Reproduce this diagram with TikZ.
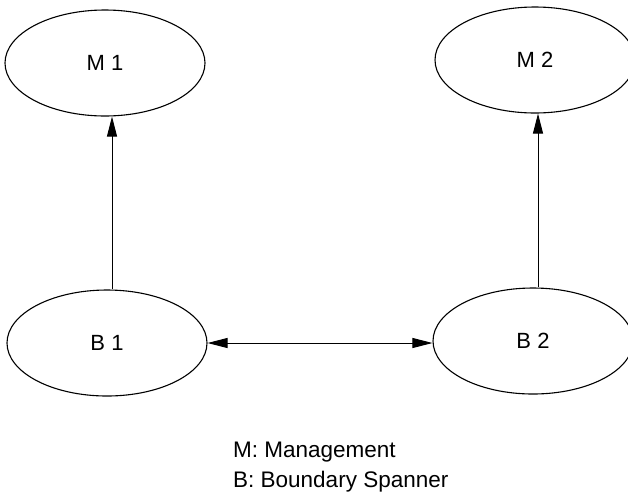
\documentclass[tikz,border=0pt]{standalone}
\usepackage{fontspec}
\setmainfont{Liberation Sans}
\usetikzlibrary{shapes.geometric,arrows.meta}
\begin{document}
\begin{tikzpicture}[x=1pt,y=-1pt,
  actor/.style={draw, ellipse, line width=1.1pt, minimum width=200pt,
    minimum height=106pt, inner sep=0pt, font=\fontsize{22}{26}\selectfont},
  link/.style={line width=0.9pt, -{Triangle[length=20pt,width=10pt]}},
  biglink/.style={line width=0.9pt, {Triangle[length=20pt,width=10pt]}-{Triangle[length=20pt,width=10pt]}},
  legend/.style={anchor=base west, inner sep=0pt, font=\fontsize{22.5}{26}\selectfont}]
  \useasboundingbox (0,0) rectangle (628,491);

  % management and boundary spanner units
  \node[actor] (M1) at (105,63) {M 1};
  \node[actor] (M2) at (535,60) {M 2};
  \node[actor] (B1) at (107,343) {B 1};
  \node[actor] (B2) at (533,341) {B 2};

  % reporting lines and the spanner link
  \draw[link] ([xshift=5pt]B1.north) -- ([xshift=5pt]B1.north |- M1.south);
  \draw[link] ([xshift=5pt]B2.north) -- ([xshift=5pt]B2.north |- M2.south);
  \draw[biglink] (B1.east) -- (B1.east -| B2.west);

  % key
  \node[legend] (keyM) at (233,457) {M: Management};
  \node[legend] (keyB) at (233,487) {B: Boundary Spanner};
\end{tikzpicture}
\end{document}
